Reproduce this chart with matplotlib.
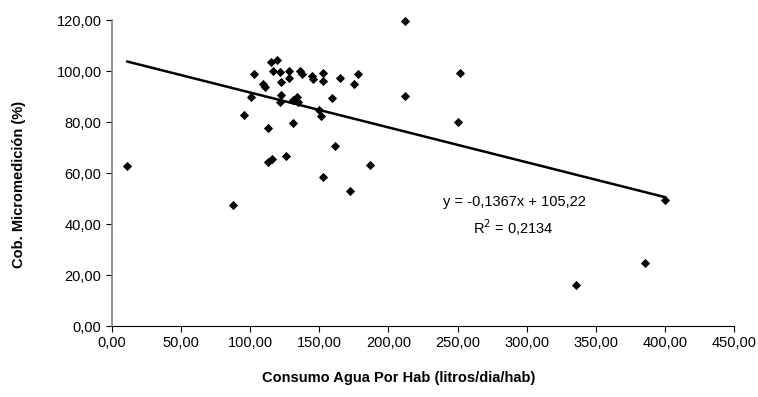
import numpy as np
import matplotlib.pyplot as plt
from matplotlib.ticker import FuncFormatter

plt.rcParams['font.family'] = ['Liberation Sans', 'DejaVu Sans']

# datos
consumo = [11.1, 87.3, 95.7, 100.3, 103.0, 109.0, 110.5, 113.1, 113.1, 115.5,
           114.8, 119.2, 116.3, 121.6, 122.3, 122.3, 121.6, 128.3, 128.3, 130.7,
           125.9, 131.2, 133.5, 134.8, 136.0, 137.2, 145.0, 145.2, 152.9, 152.9,
           149.8, 151.2, 159.0, 161.4, 152.9, 164.8, 175.1, 178.0, 186.9, 172.4,
           211.8, 211.8, 251.8, 250.1, 336.0, 385.7, 400.1]
cobertura = [62.9, 47.5, 82.7, 89.8, 98.7, 94.8, 93.7, 77.6, 64.4, 65.5,
             103.6, 104.2, 100.0, 99.5, 95.8, 90.6, 88.0, 100.0, 97.1, 79.5,
             66.7, 88.6, 89.7, 88.0, 100.0, 98.7, 98.2, 96.9, 99.3, 96.2,
             84.7, 82.4, 89.3, 70.7, 58.5, 97.1, 94.9, 98.8, 63.3, 53.1,
             119.6, 90.2, 99.1, 79.9, 16.2, 24.6, 49.3]

pendiente = -0.1367
intercepto = 105.22
r2 = 0.2134

fig = plt.figure(figsize=(7.58, 3.97), dpi=100)
ax = fig.add_axes([0.1478, 0.1788, 0.8206, 0.7708])

ax.scatter(consumo, cobertura, marker='D', s=22, color='black', zorder=3,
           linewidths=0, clip_on=False)

# linea de tendencia
xl = np.array([min(consumo), max(consumo)])
ax.plot(xl, pendiente * xl + intercepto, color='black', lw=1.8, zorder=2)

ax.set_xlim(0, 450)
ax.set_ylim(0, 120)
ax.set_xticks(np.arange(0, 451, 50))
ax.set_yticks(np.arange(0, 121, 20))
fmt = FuncFormatter(lambda v, p: ('%.2f' % v).replace('.', ','))
ax.xaxis.set_major_formatter(fmt)
ax.yaxis.set_major_formatter(fmt)

for s in ['top', 'right']:
    ax.spines[s].set_visible(False)
ax.spines['left'].set_color('#808080')
ax.spines['left'].set_linewidth(1.2)
ax.spines['bottom'].set_color('black')
ax.tick_params(direction='out', length=4, labelsize=10.5, colors='black')

ax.set_xlabel('Consumo Agua Por Hab (litros/dia/hab)', fontsize=10.5, fontweight='bold')
ax.set_ylabel('Cob. Micromedición (%)', fontsize=10.5, fontweight='bold')
ax.xaxis.set_label_coords(0.461, -0.146)
ax.yaxis.set_label_coords(-0.139, 0.464)

fig.text(0.679, 0.491, 'y = -0,1367x + 105,22', ha='center', va='center', fontsize=10.5)
fig.text(0.677, 0.426, 'R$^2$ = %s' % ('%.4f' % r2).replace('.', ','), ha='center', va='center', fontsize=10.5)

fig.savefig('out.png', dpi=100)
